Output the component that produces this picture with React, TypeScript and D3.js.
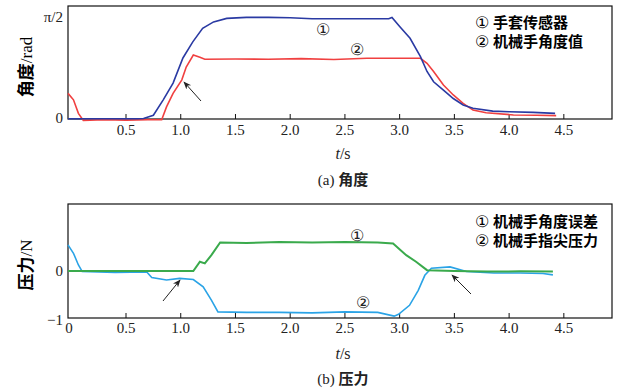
import * as d3 from "d3";
import React from "react";

const W = 635;
const H = 392;

// time values are seconds, angles rad, forces N
const gloveT = [-0.03, 0.3, 0.6, 0.66, 0.75, 0.84, 0.93, 1.02, 1.11, 1.2, 1.3, 1.42, 1.6, 1.8, 2.0, 2.2, 2.5, 2.8, 2.9, 2.93, 3.0, 3.095, 3.19, 3.25, 3.31, 3.4, 3.49, 3.58, 3.67, 3.85, 4.0, 4.22, 4.42];
const gloveV = [-0.005, -0.005, -0.005, 0.0, 0.05, 0.29, 0.55, 0.94, 1.19, 1.4, 1.5, 1.555, 1.57, 1.57, 1.565, 1.55, 1.548, 1.548, 1.55, 1.57, 1.43, 1.245, 0.96, 0.73, 0.57, 0.44, 0.31, 0.21, 0.16, 0.115, 0.105, 0.095, 0.08];

const handT = [-0.03, 0.02, 0.065, 0.11, 0.3, 0.5, 0.7, 0.826, 0.87, 0.93, 1.01, 1.05, 1.115, 1.175, 1.22, 1.5, 1.8, 2.1, 2.4, 2.7, 3.0, 3.19, 3.25, 3.31, 3.4, 3.49, 3.58, 3.67, 3.79, 4.04, 4.25, 4.43];
const handV = [0.39, 0.29, 0.08, -0.03, -0.02, -0.025, -0.02, -0.02, 0.18, 0.39, 0.6, 0.8, 0.985, 0.95, 0.92, 0.925, 0.92, 0.93, 0.915, 0.935, 0.935, 0.935, 0.857, 0.73, 0.52, 0.365, 0.236, 0.13, 0.09, 0.055, 0.05, 0.045];

const errT = [-0.03, 0.5, 1.0, 1.115, 1.175, 1.22, 1.28, 1.36, 1.6, 1.9, 2.2, 2.5, 2.8, 2.94, 3.06, 3.15, 3.25, 3.5, 3.8, 4.1, 4.4];
const errV = [0.0, 0.0, 0.0, 0.0, 0.2, 0.165, 0.34, 0.61, 0.6, 0.62, 0.61, 0.62, 0.61, 0.59, 0.34, 0.2, 0.02, 0.0, -0.01, -0.005, -0.01];

const forceT = [-0.03, 0.02, 0.065, 0.1, 0.4, 0.69, 0.735, 0.87, 0.99, 1.115, 1.205, 1.28, 1.34, 1.6, 1.9, 2.2, 2.5, 2.8, 2.95, 2.99, 3.09, 3.17, 3.23, 3.29, 3.46, 3.61, 3.86, 4.1, 4.31, 4.4];
const forceV = [0.56, 0.38, 0.13, -0.01, -0.03, -0.02, -0.135, -0.19, -0.155, -0.18, -0.335, -0.62, -0.87, -0.88, -0.88, -0.89, -0.87, -0.88, -0.96, -0.92, -0.73, -0.41, -0.09, 0.06, 0.09, -0.01, -0.04, -0.04, -0.05, -0.08];

const xTicks = [0.5, 1.0, 1.5, 2.0, 2.5, 3.0, 3.5, 4.0, 4.5];
const xTicksB = [0, 0.5, 1.0, 1.5, 2.0, 2.5, 3.0, 3.5, 4.0, 4.5];

const serif = { fontFamily: "Liberation Serif" };
const cjk = { fontFamily: "Noto Sans CJK SC", fontWeight: 700 };

const x = d3.scaleLinear().domain([-0.03, 4.94]).range([68, 612]);
const yA = d3.scaleLinear().domain([-0.008, 1.747]).range([119, 6]);
const yB = d3.scaleLinear().domain([-1, 1.43]).range([318, 204]);

const zip = (t: number[], v: number[]) => t.map((d, i) => [d, v[i]] as [number, number]);

function Arrow({ x1, y1, x2, y2 }: { x1: number; y1: number; x2: number; y2: number }) {
  return <line x1={x1} y1={y1} x2={x2} y2={y2} stroke="#222" strokeWidth={1} markerEnd="url(#arr)" />;
}

function Legend({ x0, y0, items }: { x0: number; y0: number; items: [string, string][] }) {
  return (
    <g>
      {items.map(([n, s], i) => (
        <text key={i} x={x0} y={y0 + i * 19} fontSize={15}>
          <tspan style={serif} fontSize={16}>{n}</tspan>
          <tspan style={cjk} dx={4}>{s}</tspan>
        </text>
      ))}
    </g>
  );
}

export default function App() {
  const lineA = d3.line<[number, number]>().x((d) => x(d[0])).y((d) => yA(d[1]));
  const lineB = d3.line<[number, number]>().x((d) => x(d[0])).y((d) => yB(d[1]));

  return (
    <svg width={W} height={H} style={{ position: "absolute", left: 0, top: 0, background: "#fff", fontFamily: "Liberation Serif" }}>
      <defs>
        <marker id="arr" viewBox="0 0 10 10" refX={9} refY={5} markerWidth={8} markerHeight={8} orient="auto">
          <path d="M0,1 L10,5 L0,9 L3,5 Z" fill="#222" />
        </marker>
      </defs>

      {/* (a) angle */}
      <rect x={68} y={6} width={544} height={113} fill="none" stroke="#111" strokeWidth={1.2} />
      {xTicks.map((t) => (
        <g key={t}>
          <line x1={x(t)} x2={x(t)} y1={119} y2={114} stroke="#111" />
          <text x={x(t)} y={135} textAnchor="middle" style={serif} fontSize={15} fill="#222">{t.toFixed(1)}</text>
        </g>
      ))}
      <text x={63} y={yA(Math.PI / 2) + 5} textAnchor="end" style={serif} fontSize={15} fill="#222">π/2</text>
      <text x={63} y={yA(0) + 5} textAnchor="end" style={serif} fontSize={15} fill="#222">0</text>
      <path d={lineA(zip(handT, handV)) ?? ""} fill="none" stroke="#f04040" strokeWidth={1.6} />
      <path d={lineA(zip(gloveT, gloveV)) ?? ""} fill="none" stroke="#2a3aa3" strokeWidth={1.6} />
      <text x={323} y={35} textAnchor="middle" style={serif} fontSize={16} fill="#222">①</text>
      <text x={357} y={55} textAnchor="middle" style={serif} fontSize={16} fill="#222">②</text>
      <Arrow x1={201} y1={101} x2={184} y2={82} />
      <Legend x0={475} y0={28} items={[["①", "手套传感器"], ["②", "机械手角度值"]]} />
      <text transform="translate(32,67) rotate(-90)" textAnchor="middle" fontSize={17}>
        <tspan style={cjk}>角度</tspan>
        <tspan style={serif}>/rad</tspan>
      </text>
      <text x={343} y={159} textAnchor="middle" style={serif} fontSize={16} fill="#222">
        <tspan fontStyle="italic">t</tspan>/s
      </text>
      <text x={343} y={185} textAnchor="middle" fontSize={15} fill="#222">
        <tspan style={serif}>(a) </tspan>
        <tspan style={cjk}>角度</tspan>
      </text>

      {/* (b) force */}
      <rect x={68} y={204} width={544} height={114} fill="none" stroke="#111" strokeWidth={1.2} />
      {xTicksB.map((t) => (
        <g key={t}>
          {t > 0 && <line x1={x(t)} x2={x(t)} y1={318} y2={313} stroke="#111" />}
          <text x={t === 0 ? 69 : x(t)} y={333} textAnchor="middle" style={serif} fontSize={15} fill="#222">{t === 0 ? "0" : t.toFixed(1)}</text>
        </g>
      ))}
      <text x={63} y={yB(0) + 5} textAnchor="end" style={serif} fontSize={15} fill="#222">0</text>
      <text x={63} y={yB(-1) + 7} textAnchor="end" style={serif} fontSize={15} fill="#222">−1</text>
      <path d={lineB(zip(forceT, forceV)) ?? ""} fill="none" stroke="#2aa3e6" strokeWidth={1.6} />
      <path d={lineB(zip(errT, errV)) ?? ""} fill="none" stroke="#3aaa4c" strokeWidth={2} />
      <text x={357} y={241} textAnchor="middle" style={serif} fontSize={16} fill="#222">①</text>
      <text x={363} y={308} textAnchor="middle" style={serif} fontSize={16} fill="#222">②</text>
      <Arrow x1={163} y1={301} x2={180} y2={280} />
      <Arrow x1={471} y1={294} x2={452} y2={275} />
      <Legend x0={475} y0={227} items={[["①", "机械手角度误差"], ["②", "机械手指尖压力"]]} />
      <text transform="translate(32,265) rotate(-90)" textAnchor="middle" fontSize={17}>
        <tspan style={cjk}>压力</tspan>
        <tspan style={serif}>/N</tspan>
      </text>
      <text x={343} y={359} textAnchor="middle" style={serif} fontSize={16} fill="#222">
        <tspan fontStyle="italic">t</tspan>/s
      </text>
      <text x={343} y={384} textAnchor="middle" fontSize={15} fill="#222">
        <tspan style={serif}>(b) </tspan>
        <tspan style={cjk}>压力</tspan>
      </text>
    </svg>
  );
}
